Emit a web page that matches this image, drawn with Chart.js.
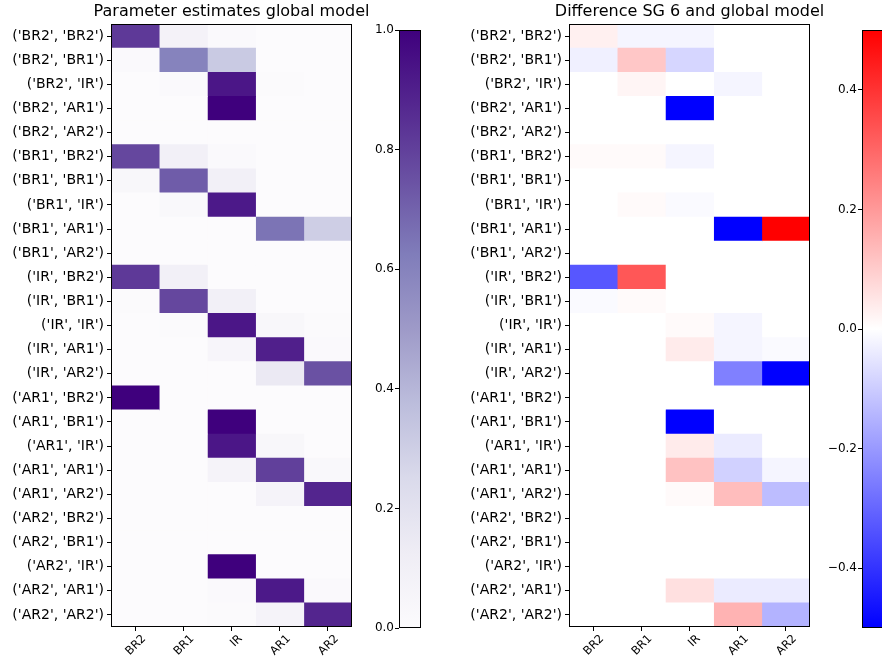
<!DOCTYPE html>
<html>
<head>
<meta charset="utf-8">
<script src="https://cdn.jsdelivr.net/npm/chart.js@4"></script>
<style>
body { margin: 0; width: 882px; height: 657px; overflow: hidden; background: #fff; position: relative; }
canvas { position: absolute; top: 0; }
</style>
</head>
<body>
<canvas id="heatLeft" width="463" height="657" style="left:0"></canvas>
<canvas id="barLeft" width="90" height="657" style="left:350px"></canvas>
<canvas id="heatRight" width="463" height="657" style="left:458px"></canvas>
<canvas id="barRight" width="90" height="657" style="left:813px"></canvas>
<script>
const rowLabels = [
    "('BR2', 'BR2')", "('BR2', 'BR1')", "('BR2', 'IR')", "('BR2', 'AR1')", "('BR2', 'AR2')",
    "('BR1', 'BR2')", "('BR1', 'BR1')", "('BR1', 'IR')", "('BR1', 'AR1')", "('BR1', 'AR2')",
    "('IR', 'BR2')", "('IR', 'BR1')", "('IR', 'IR')", "('IR', 'AR1')", "('IR', 'AR2')",
    "('AR1', 'BR2')", "('AR1', 'BR1')", "('AR1', 'IR')", "('AR1', 'AR1')", "('AR1', 'AR2')",
    "('AR2', 'BR2')", "('AR2', 'BR1')", "('AR2', 'IR')", "('AR2', 'AR1')", "('AR2', 'AR2')"
];
const colLabels = ['BR2', 'BR1', 'IR', 'AR1', 'AR2'];

// parameter estimates, global model (one row per label, columns BR2..AR2)
const globalEst = [
    [0.82, 0.08, 0.02, 0, 0],
    [0.02, 0.60, 0.32, 0, 0],
    [0, 0.02, 0.93, 0.01, 0],
    [0, 0, 1.00, 0, 0],
    [0, 0, 0, 0, 0],
    [0.78, 0.10, 0.02, 0, 0],
    [0.04, 0.72, 0.10, 0, 0],
    [0, 0.03, 0.92, 0, 0],
    [0, 0, 0, 0.65, 0.30],
    [0, 0, 0, 0, 0],
    [0.82, 0.10, 0, 0, 0],
    [0.01, 0.78, 0.10, 0, 0],
    [0, 0.01, 0.93, 0.04, 0.01],
    [0, 0, 0.05, 0.90, 0.02],
    [0, 0, 0, 0.15, 0.75],
    [1.00, 0, 0, 0, 0],
    [0, 0, 1.00, 0, 0],
    [0, 0, 0.93, 0.04, 0],
    [0, 0, 0.07, 0.80, 0.03],
    [0, 0, 0, 0.07, 0.88],
    [0, 0, 0, 0, 0],
    [0, 0, 0, 0, 0],
    [0, 0, 1.00, 0, 0],
    [0, 0, 0.02, 0.92, 0.02],
    [0, 0, 0.01, 0.07, 0.88]
];

// difference SG 6 minus global model
const diffSG6 = [
    [0.03, -0.02, -0.02, 0, 0],
    [-0.03, 0.11, -0.08, 0, 0],
    [0, 0.02, 0, -0.02, 0],
    [0, 0, -0.5, 0, 0],
    [0, 0, 0, 0, 0],
    [0.01, 0.01, -0.02, 0, 0],
    [0, 0, 0, 0, 0],
    [0, 0.01, -0.01, 0, 0],
    [0, 0, 0, -0.5, 0.5],
    [0, 0, 0, 0, 0],
    [-0.33, 0.33, 0, 0, 0],
    [-0.01, 0.01, 0, 0, 0],
    [0, 0, 0.01, -0.02, 0],
    [0, 0, 0.04, -0.02, -0.01],
    [0, 0, 0, -0.25, -0.5],
    [0, 0, 0, 0, 0],
    [0, 0, -0.5, 0, 0],
    [0, 0, 0.04, -0.04, 0],
    [0, 0, 0.12, -0.09, -0.02],
    [0, 0, 0.01, 0.13, -0.13],
    [0, 0, 0, 0, 0],
    [0, 0, 0, 0, 0],
    [0, 0, 0, 0, 0],
    [0, 0, 0.06, -0.04, -0.04],
    [0, 0, 0, 0.15, -0.15]
];

const leftTicks = [0, 0.2, 0.4, 0.6, 0.8, 1.0];
const rightTicks = [-0.4, -0.2, 0, 0.2, 0.4];

const purpleStops = ['#fcfbfd', '#efedf5', '#dadaeb', '#bcbddc', '#9e9ac8', '#807dba', '#6a51a3', '#54278f', '#3f007d'];
const bwrStops = ['#0000ff', '#ffffff', '#ff0000'];

Chart.defaults.font.family = "'DejaVu Sans', sans-serif";
Chart.defaults.color = '#000';

function hexToRgb(h) {
    return [parseInt(h.slice(1, 3), 16), parseInt(h.slice(3, 5), 16), parseInt(h.slice(5, 7), 16)];
}

function rampColor(stops, t) {
    t = Math.max(0, Math.min(1, t));
    const pos = t * (stops.length - 1);
    const i = Math.min(Math.floor(pos), stops.length - 2);
    const f = pos - i;
    const a = hexToRgb(stops[i]), b = hexToRgb(stops[i + 1]);
    const c = a.map((v, k) => Math.round(v + (b[k] - v) * f));
    return 'rgb(' + c.join(',') + ')';
}

const purples = v => rampColor(purpleStops, v);
const bwr = v => rampColor(bwrStops, (v + 0.5) / 1.0);

// black frame round each plot area
const frame = {
    id: 'frame',
    afterDraw(chart) {
        const a = chart.chartArea, c = chart.ctx;
        c.save();
        c.strokeStyle = '#000';
        c.lineWidth = 1;
        c.strokeRect(Math.round(a.left) + 0.5, Math.round(a.top) + 0.5, Math.round(a.right - a.left) - 1, Math.round(a.bottom - a.top) - 1);
        c.restore();
    }
};

function heatmap(id, title, values, colorFn) {
    const datasets = colLabels.map((col, j) => ({
        label: col,
        data: rowLabels.map(() => [j - 0.5, j + 0.5]),
        backgroundColor: values.map(row => colorFn(row[j])),
        borderWidth: 0,
        barPercentage: 1,
        categoryPercentage: 1,
        grouped: false
    }));

    new Chart(document.getElementById(id), {
        type: 'bar',
        data: { labels: rowLabels, datasets: datasets },
        options: {
            indexAxis: 'y',
            responsive: false,
            animation: false,
            layout: { padding: 0 },
            plugins: {
                legend: { display: false },
                tooltip: { enabled: false },
                title: {
                    display: true,
                    text: title,
                    color: '#000',
                    font: { size: 16, weight: 'normal' },
                    padding: { top: 2, bottom: 2.8 }
                }
            },
            scales: {
                x: {
                    type: 'linear',
                    min: -0.5,
                    max: 4.5,
                    afterBuildTicks: s => { s.ticks = colLabels.map((_, i) => ({ value: i })); },
                    afterFit: s => { s.height = 30; },
                    grid: { drawOnChartArea: false, tickLength: 4, color: '#000' },
                    border: { display: false },
                    ticks: {
                        callback: v => colLabels[v],
                        minRotation: 45,
                        maxRotation: 45,
                        labelOffset: 9,
                        padding: 1,
                        autoSkip: false,
                        font: { size: 11.5 }
                    }
                },
                y: {
                    afterFit: s => { s.width = 111; },
                    grid: { drawOnChartArea: false, offset: false, tickLength: 4, color: '#000' },
                    border: { display: false },
                    ticks: { autoSkip: false, padding: 3, font: { size: 14 } }
                },
                // empty right-hand axis: keeps the title centred over the plot
                yPad: {
                    type: 'linear',
                    position: 'right',
                    afterFit: s => { s.width = 111; },
                    grid: { display: false },
                    border: { display: false },
                    ticks: { display: false }
                }
            }
        },
        plugins: [frame]
    });
}

function colorbar(id, min, max, ticks, stops, rightPad) {
    new Chart(document.getElementById(id), {
        type: 'bar',
        data: {
            labels: ['scale'],
            datasets: [{
                data: [[min, max]],
                borderWidth: 0,
                barPercentage: 1,
                categoryPercentage: 1,
                backgroundColor: ctx => {
                    const a = ctx.chart.chartArea;
                    if (!a) return stops[0];
                    const g = ctx.chart.ctx.createLinearGradient(0, a.bottom, 0, a.top);
                    stops.forEach((c, i) => g.addColorStop(i / (stops.length - 1), c));
                    return g;
                }
            }]
        },
        options: {
            responsive: false,
            animation: false,
            layout: { padding: { left: 0, right: rightPad, top: 30, bottom: 29 } },
            plugins: { legend: { display: false }, tooltip: { enabled: false } },
            scales: {
                x: { display: false },
                y: {
                    min: min,
                    max: max,
                    afterBuildTicks: s => { s.ticks = ticks.map(v => ({ value: v })); },
                    afterFit: s => { s.width = 49; },
                    grid: { drawOnChartArea: false, tickLength: 4, color: '#000' },
                    border: { display: false },
                    ticks: {
                        padding: 1,
                        font: { size: 12 },
                        callback: v => (v < 0 ? '\u2212' : '') + Math.abs(v).toFixed(1)
                    }
                }
            }
        },
        plugins: [frame]
    });
}

heatmap('heatLeft', 'Parameter estimates global model', globalEst, purples);
heatmap('heatRight', 'Difference SG 6 and global model', diffSG6, bwr);
colorbar('barLeft', 0, 1, leftTicks, purpleStops, 19);
colorbar('barRight', -0.5, 0.5, rightTicks, bwrStops, 20);
</script>
</body>
</html>
